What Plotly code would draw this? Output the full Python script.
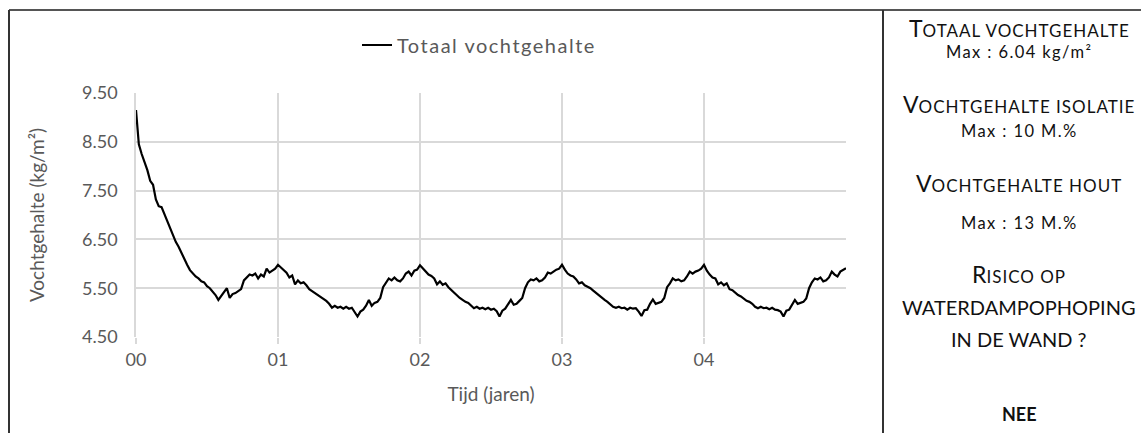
import plotly.graph_objects as go

# ---- data ----
jaar0 = [9.15, 8.45, 8.25, 8.08, 7.92, 7.70, 7.62, 7.32, 7.18, 7.16,
         7.02, 6.88, 6.72, 6.58, 6.45, 6.35, 6.22, 6.10, 5.98, 5.87,
         5.80, 5.74, 5.70, 5.64, 5.62, 5.54, 5.50, 5.44, 5.36, 5.26,
         5.34, 5.42, 5.50, 5.30, 5.38, 5.40, 5.44, 5.48, 5.66, 5.72,
         5.78, 5.76, 5.80, 5.70, 5.78, 5.74, 5.90, 5.82, 5.86, 5.90]
jaar1 = [5.98, 5.92, 5.86, 5.82, 5.72, 5.76, 5.58, 5.66, 5.60, 5.62,
         5.56, 5.48, 5.44, 5.40, 5.36, 5.32, 5.28, 5.24, 5.18, 5.10,
         5.14, 5.10, 5.12, 5.08, 5.12, 5.08, 5.10, 5.02, 4.92, 5.02,
         5.06, 5.14, 5.26, 5.14, 5.20, 5.22, 5.30, 5.52, 5.62, 5.70,
         5.66, 5.72, 5.66, 5.64, 5.70, 5.80, 5.84, 5.76, 5.86, 5.88]
jaar2 = [5.97, 5.90, 5.84, 5.78, 5.75, 5.70, 5.58, 5.64, 5.57, 5.60,
         5.52, 5.46, 5.40, 5.36, 5.30, 5.26, 5.22, 5.20, 5.14, 5.09,
         5.12, 5.08, 5.10, 5.07, 5.10, 5.06, 5.08, 5.03, 4.92, 5.04,
         5.08, 5.16, 5.26, 5.16, 5.18, 5.24, 5.30, 5.50, 5.62, 5.68,
         5.66, 5.70, 5.64, 5.66, 5.72, 5.82, 5.80, 5.84, 5.88, 5.90]
jaar3 = [5.98, 5.88, 5.80, 5.76, 5.74, 5.68, 5.60, 5.62, 5.56, 5.53,
         5.50, 5.45, 5.40, 5.34, 5.30, 5.26, 5.22, 5.16, 5.12, 5.10,
         5.12, 5.09, 5.10, 5.06, 5.10, 5.08, 5.09, 5.02, 4.93, 5.05,
         5.06, 5.18, 5.27, 5.18, 5.20, 5.22, 5.30, 5.52, 5.60, 5.70,
         5.66, 5.68, 5.64, 5.66, 5.74, 5.84, 5.80, 5.84, 5.86, 5.90]
jaar4 = [5.98, 5.86, 5.78, 5.72, 5.70, 5.58, 5.62, 5.56, 5.60, 5.48,
         5.46, 5.40, 5.36, 5.33, 5.28, 5.24, 5.22, 5.18, 5.12, 5.09,
         5.12, 5.09, 5.10, 5.07, 5.10, 5.06, 5.05, 5.02, 4.92, 5.04,
         5.06, 5.16, 5.26, 5.18, 5.20, 5.22, 5.29, 5.50, 5.62, 5.70,
         5.68, 5.72, 5.64, 5.66, 5.72, 5.84, 5.78, 5.74, 5.84, 5.88,
         5.91]
vochtgehalte = jaar0 + jaar1 + jaar2 + jaar3 + jaar4
stap = 0.02  # sampling interval in years
tijd = [round(i * stap, 2) for i in range(len(vochtgehalte))]

x_tickvals = [0, 1, 2, 3, 4]
x_ticktext = ["00", "01", "02", "03", "04"]
y_tickvals = [4.5, 5.5, 6.5, 7.5, 8.5, 9.5]
y_ticktext = ["4.50", "5.50", "6.50", "7.50", "8.50", "9.50"]

W, H = 1141, 433
FONT = "Lato"
GRAY = "#595959"
GRID = "#d9d9d9"

def px(x):
    return x / W

def py(y):
    return 1 - y / H

fig = go.Figure()
fig.add_trace(go.Scatter(
    x=tijd, y=vochtgehalte, mode="lines",
    name='<span style="letter-spacing:1.5px">Totaal vochtgehalte</span>',
    line=dict(color="#000000", width=2.2)))

fig.update_layout(
    width=W, height=H, autosize=False,
    margin=dict(l=0, r=0, t=0, b=0, pad=0),
    paper_bgcolor="white", plot_bgcolor="white",
    font=dict(family=FONT, color=GRAY, size=18),
    showlegend=True,
    legend=dict(orientation="h", x=px(357), xanchor="left", y=py(45), yanchor="middle",
                font=dict(family=FONT, size=20, color=GRAY), bgcolor="rgba(0,0,0,0)"),
    xaxis=dict(domain=[px(136), px(846)], range=[0, 5], automargin=False,
               tickvals=x_tickvals, ticktext=x_ticktext,
               showgrid=True, gridcolor=GRID, gridwidth=1.5,
               ticks="outside", ticklen=6, tickcolor=GRID, tickwidth=1.5,
               zeroline=False, showline=False,
               tickfont=dict(size=18, color=GRAY, family=FONT),
               title=dict(text="Tijd (jaren)", font=dict(size=19, color=GRAY, family=FONT), standoff=19)),
    yaxis=dict(domain=[py(337), py(93)], range=[4.5, 9.5], automargin=False,
               tickvals=y_tickvals, ticktext=y_ticktext,
               showgrid=True, gridcolor=GRID, gridwidth=1.5,
               ticks="", zeroline=False,
               showline=True, linecolor=GRID, linewidth=1.5,
               ticklabelstandoff=13,
               tickfont=dict(size=18, color=GRAY, family=FONT),
               title=dict(text="Vochtgehalte (kg/m²)", font=dict(size=19, color=GRAY, family=FONT), standoff=32)),
)

# frame lines
BORDER = "#333333"
fig.add_shape(type="line", xref="paper", yref="paper", x0=px(9), x1=1, y0=py(10), y1=py(10),
              line=dict(color="#555555", width=2))
fig.add_shape(type="line", xref="paper", yref="paper", x0=px(9), x1=px(9), y0=py(10), y1=0,
              line=dict(color=BORDER, width=2))
fig.add_shape(type="line", xref="paper", yref="paper", x0=px(883), x1=px(883), y0=py(10), y1=0,
              line=dict(color=BORDER, width=2))

# right panel texts
CX = px(1019)
BIG, SMALL, MAXS = 23, 17, 16.5

def sc(first, rest, ls=1.0):
    return (f'<span style="font-size:{BIG}px">{first}</span>'
            f'<span style="letter-spacing:{ls}px">{rest}</span>')

def sp(txt, ls):
    return f'<span style="letter-spacing:{ls}px">{txt}</span>'

panel = [
    (28, sc("T", "OTAAL VOCHTGEHALTE"), SMALL),
    (52, sp("Max : 6.04 kg/m²", 1.4), MAXS),
    (104, sc("V", "OCHTGEHALTE ISOLATIE"), SMALL),
    (131, sp("Max : 10 M.%", 1.4), MAXS),
    (183, sc("V", "OCHTGEHALTE HOUT"), SMALL),
    (223, sp("Max : 13 M.%", 1.4), MAXS),
    (274, sc("R", "ISICO OP"), SMALL),
    (307, "WATERDAMPOPHOPING", 20),
    (339, "IN DE WAND ?", 20),
    (414, "<b>NEE</b>", 18),
]
for yy, txt, size in panel:
    fig.add_annotation(x=CX, y=py(yy), xref="paper", yref="paper", text=txt,
                       showarrow=False, xanchor="center", yanchor="middle",
                       font=dict(family=FONT, size=size, color="#111111"))

# the page's default body margin would shift the figure; remove it
fig.write_html("out.html", config={"displayModeBar": False},
               post_script="document.body.style.margin='0px';")
